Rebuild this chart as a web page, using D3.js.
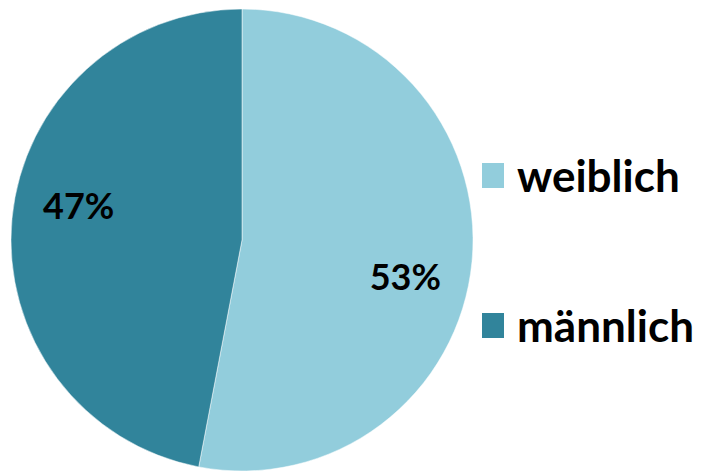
<!DOCTYPE html>
<html>
<head>
<meta charset="utf-8">
<script src="https://cdn.jsdelivr.net/npm/d3@7"></script>
<style>
  body { margin: 0; background: #fff; }
  svg { display: block; }
</style>
</head>
<body>
<svg id="chart" width="702" height="474"></svg>
<script>
var categories = ["weiblich", "männlich"];
var values = [53, 47];
var colors = ["#92CDDC", "#31849B"];

var svg = d3.select("#chart"),
    cx = 242, cy = 240, radius = 231;

var color = d3.scaleOrdinal().domain(categories).range(colors);

var pie = d3.pie().sort(null).value(function(d) { return d.value; });
var data = categories.map(function(c, i) { return {name: c, value: values[i]}; });
var arcs = pie(data);

var arc = d3.arc().innerRadius(0).outerRadius(radius);
var labelArc = d3.arc().innerRadius(radius * 0.71).outerRadius(radius * 0.71);
// excel "best fit" nudges labels a bit off the centroid line
var labelNudge = [22, -18];

var g = svg.append("g").attr("transform", "translate(" + cx + "," + cy + ")");

g.selectAll("path")
  .data(arcs)
  .enter().append("path")
    .attr("d", arc)
    .attr("fill", function(d) { return color(d.data.name); })
    .attr("stroke", "#fff")
    .attr("stroke-width", 0.5);

var total = d3.sum(values);
g.selectAll("text")
  .data(arcs)
  .enter().append("text")
    .attr("transform", function(d, i) {
      var c = labelArc.centroid(d);
      return "translate(" + c[0] + "," + (c[1] + labelNudge[i]) + ")";
    })
    .attr("text-anchor", "middle")
    .attr("dy", "0.35em")
    .style("font-family", "Lato, 'Open Sans', sans-serif")
    .style("font-weight", "bold")
    .style("font-size", "36px")
    .attr("fill", "#000")
    .text(function(d) { return Math.round(d.data.value / total * 100) + "%"; });

// legend
var legend = svg.append("g").attr("transform", "translate(482,163)");
var item = legend.selectAll("g")
  .data(categories)
  .enter().append("g")
    .attr("transform", function(d, i) { return "translate(0," + (i * 150) + ")"; });

item.append("rect")
  .attr("width", 22)
  .attr("height", 25)
  .attr("fill", function(d) { return color(d); });

item.append("text")
  .attr("x", 35)
  .attr("y", 29)
  .style("font-family", "Lato, 'Open Sans', sans-serif")
  .style("font-weight", "bold")
  .style("font-size", "44px")
  .attr("fill", "#000")
  .text(function(d) { return d; });
</script>
</body>
</html>
